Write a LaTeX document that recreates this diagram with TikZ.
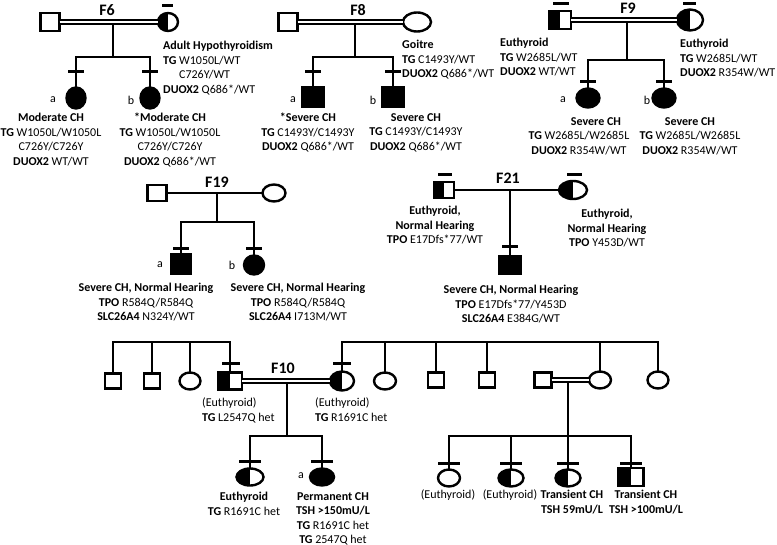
\documentclass[tikz,border=0pt]{standalone}
\usepackage{fontspec}
\setmainfont{Carlito}
\usetikzlibrary{shapes.geometric}
\begin{document}
\begin{tikzpicture}[x=1pt,y=-1pt,
  sym/.style={draw, line width=2.4pt, inner sep=0pt, outer sep=0pt},
  dims/.style 2 args={minimum width=#1, minimum height=#2},
  male/.style={sym, rectangle},
  female/.style={sym, ellipse},
  aff/.style={fill=black},
  carrier/.style={path picture={\fill[black] (path picture bounding box.south west) rectangle (path picture bounding box.north);}},
  ln/.style={line width=2.6pt},
  mate/.style={double, double distance=2.2pt, line width=1.6pt},
  tbar/.style={line width=3pt},
  txt/.style={font=\fontsize{12}{14.5}\selectfont, align=center, inner sep=0pt, anchor=north},
  txtl/.style={txt, align=left, anchor=north west},
  fam/.style={font=\bfseries\fontsize{16}{18}\selectfont, inner sep=0pt},
  lab/.style={font=\fontsize{12}{14}\selectfont, inner sep=0pt}]
\useasboundingbox (0,0) rectangle (777,545);
\fill[white] (0,0) rectangle (777,545);

% ---------------- F6 ----------------
\node[male,dims={19pt}{18pt}] (f6m) at (50,22) {};
\node[female,carrier,dims={20pt}{18pt}] (f6f) at (168,22) {};
\node[fam] (F6) at (107,10) {F6};
\node[female,aff,dims={19pt}{21pt}] (f6a) at (76,98) {};
\node[female,aff,dims={19pt}{21pt}] (f6b) at (150,98) {};
\coordinate (f6u) at (113,22);
\coordinate (f6s) at (113,57);
\draw[ln] (f6u) -- (f6s);
\draw[ln] (f6a.north) -- (f6a.north |- f6s) -- (f6b.north |- f6s) -- (f6b.north);
\draw[mate] (f6m) -- (f6f);
\draw[tbar] (162,6) -- (173,6);
\draw[tbar] (68,72) -- (84,72);
\draw[tbar] (142,72) -- (158,72);
\node[lab] (f6la) at (53,100) {a};
\node[lab] (f6lb) at (131,100) {b};
\node[txtl] (f6ft) at (163,41) {\textbf{Adult Hypothyroidism}\\\textbf{TG} W1050L/WT\\\hphantom{\textbf{TG} }C726Y/WT\\\textbf{DUOX2} Q686*/WT};
\node[txt] (f6at) at (51,113) {\textbf{Moderate CH}\\\textbf{TG} W1050L/W1050L\\C726Y/C726Y\\\textbf{DUOX2} WT/WT};
\node[txt] (f6bt) at (170,113) {\textbf{*Moderate CH}\\\textbf{TG} W1050L/W1050L\\C726Y/C726Y\\\textbf{DUOX2} Q686*/WT};

% ---------------- F8 ----------------
\node[male,dims={19pt}{18pt}] (f8m) at (288,22) {};
\node[female,dims={28pt}{19pt}] (f8f) at (417,22) {};
\node[fam] (F8) at (358,10) {F8};
\node[male,aff,dims={21pt}{20pt}] (f8a) at (313,97) {};
\node[male,aff,dims={21pt}{20pt}] (f8b) at (393,97) {};
\coordinate (f8u) at (355,22);
\coordinate (f8s) at (355,57);
\draw[ln] (f8u) -- (f8s);
\draw[ln] (f8a.north) -- (f8a.north |- f8s) -- (f8b.north |- f8s) -- (f8b.north);
\draw[mate] (f8m) -- (f8f);
\draw[tbar] (305,72) -- (321,72);
\draw[tbar] (385,72) -- (401,72);
\node[lab] (f8la) at (293,100) {a};
\node[lab] (f8lb) at (373,100) {b};
\node[txtl] (f8ft) at (402,40) {\textbf{Goitre}\\\textbf{TG} C1493Y/WT\\\textbf{DUOX2} Q686*/WT};
\node[txt] (f8at) at (308,113) {\textbf{*Severe CH}\\\textbf{TG} C1493Y/C1493Y\\\textbf{DUOX2} Q686*/WT};
\node[txt] (f8bt) at (416,113) {\textbf{Severe CH}\\\textbf{TG} C1493Y/C1493Y\\\textbf{DUOX2} Q686*/WT};

% ---------------- F9 ----------------
\node[male,carrier,dims={22pt}{18pt}] (f9m) at (560,20) {};
\node[female,carrier,dims={26pt}{21pt}] (f9f) at (690,20) {};
\node[fam] (F9) at (628,8) {F9};
\node[female,aff,dims={23pt}{19pt}] (f9a) at (588,98) {};
\node[female,aff,dims={23pt}{19pt}] (f9b) at (664,98) {};
\coordinate (f9u) at (627,20);
\coordinate (f9s) at (627,60);
\draw[ln] (f9u) -- (f9s);
\draw[ln] (f9a.north) -- (f9a.north |- f9s) -- (f9b.north |- f9s) -- (f9b.north);
\draw[mate] (f9m) -- (f9f);
\draw[tbar] (553,4) -- (569,4);
\draw[tbar] (683,4) -- (696,4);
\draw[tbar] (580,82) -- (596,82);
\draw[tbar] (656,82) -- (672,82);
\node[lab] (f9la) at (563,100) {a};
\node[lab] (f9lb) at (647,100) {b};
\node[txtl] (f9mt) at (500,38) {\textbf{Euthyroid}\\\textbf{TG} W2685L/WT\\\textbf{DUOX2} WT/WT};
\node[txtl] (f9ft) at (680,39) {\textbf{Euthyroid}\\\textbf{TG} W2685L/WT\\\textbf{DUOX2} R354W/WT};
\node[txt] (f9at) at (579,117) {\hspace*{34pt}\textbf{Severe CH}\\\textbf{TG} W2685L/W2685L\\\textbf{DUOX2} R354W/WT};
\node[txt] (f9bt) at (690,117) {\textbf{Severe CH}\\\textbf{TG} W2685L/W2685L\\\textbf{DUOX2} R354W/WT};

% ---------------- F19 ----------------
\node[male,dims={19pt}{16pt}] (f19m) at (157,193) {};
\node[female,dims={23pt}{17pt}] (f19f) at (274,193) {};
\node[fam] (F19) at (217,182) {F19};
\node[male,aff,dims={20pt}{20pt}] (f19a) at (181,264) {};
\node[female,aff,dims={20pt}{19pt}] (f19b) at (254,265) {};
\coordinate (f19u) at (217,193);
\coordinate (f19s) at (217,222);
\draw[ln] (f19m) -- (f19f);
\draw[ln] (f19u) -- (f19s);
\draw[ln] (f19a.north) -- (f19a.north |- f19s) -- (f19b.north |- f19s) -- (f19b.north);
\draw[tbar] (173,249) -- (189,249);
\draw[tbar] (246,249) -- (262,249);
\node[lab] (f19la) at (160,265) {a};
\node[lab] (f19lb) at (232,265) {b};
\node[txt] (f19at) at (146,283) {\textbf{Severe CH, Normal Hearing}\\\textbf{TPO} R584Q/R584Q\\\textbf{SLC26A4} N324Y/WT};
\node[txt] (f19bt) at (298,283) {\textbf{Severe CH, Normal Hearing}\\\textbf{TPO} R584Q/R584Q\\\textbf{SLC26A4} I713M/WT};

% ---------------- F21 ----------------
\node[male,carrier,dims={20pt}{16pt}] (f21m) at (444,190) {};
\node[female,carrier,dims={28pt}{18pt}] (f21f) at (573,190) {};
\node[fam] (F21) at (508,178) {F21};
\node[male,aff,dims={22pt}{18pt}] (f21c) at (510,265) {};
\coordinate (f21u) at (510,190);
\draw[ln] (f21m) -- (f21f);
\draw[ln] (f21u) -- (f21c.north);
\draw[tbar] (438,175) -- (452,175);
\draw[tbar] (567,175) -- (582,175);
\draw[tbar] (502,247) -- (518,247);
\node[txt] (f21mt) at (435,206) {\textbf{Euthyroid,}\\\textbf{Normal Hearing}\\\textbf{TPO} E17Dfs*77/WT};
\node[txt] (f21ft) at (607,209) {\textbf{Euthyroid,}\\\textbf{Normal Hearing}\\\textbf{TPO} Y453D/WT};
\node[txt] (f21ct) at (511,285) {\textbf{Severe CH, Normal Hearing}\\\textbf{TPO} E17Dfs*77/Y453D\\\textbf{SLC26A4} E384G/WT};

% ---------------- F10 ----------------
\coordinate (L) at (0,342);
\node[male,dims={16pt}{15pt}] (s1) at (113,381) {};
\node[male,dims={16pt}{15pt}] (s2) at (152,381) {};
\node[female,dims={21pt}{17pt}] (s3) at (190,381) {};
\node[male,carrier,dims={24pt}{17pt}] (f10m) at (230,381) {};
\node[female,carrier,dims={24pt}{19pt}] (f10f) at (342,381) {};
\node[female,dims={22pt}{17pt}] (s4) at (385,381) {};
\node[male,dims={16pt}{15pt}] (s5) at (436,380) {};
\node[male,dims={16pt}{15pt}] (s6) at (487,380) {};
\node[male,dims={17pt}{15pt}] (sm) at (543,380) {};
\node[female,dims={22pt}{17pt}] (sf) at (600,380) {};
\node[female,dims={21pt}{17pt}] (s7) at (658,380) {};
\node[fam] (F10) at (283,368) {F10};

\draw[ln] (s1.north) -- (s1.north |- L) -- (f10m.north |- L) -- (f10m.north);
\draw[ln] (s2.north) -- (s2.north |- L);
\draw[ln] (s3.north) -- (s3.north |- L);
\draw[ln] (f10f.north) -- (f10f.north |- L) -- (s7.north |- L) -- (s7.north);
\draw[ln] (s4.north) -- (s4.north |- L);
\draw[ln] (s5.north) -- (s5.north |- L);
\draw[ln] (s6.north) -- (s6.north |- L);
\draw[ln] (sf.north) -- (sf.north |- L);
\draw[tbar] (222,364) -- (240,364);
\draw[tbar] (333,364) -- (351,364);

\node[female,carrier,dims={27pt}{17pt}] (c1) at (250,477) {};
\node[female,aff,dims={24pt}{17pt}] (c2) at (322,477) {};
\coordinate (f10u) at (287,381);
\coordinate (f10s) at (287,436);
\draw[ln] (f10u) -- (f10s);
\draw[ln] (c1.north) -- (c1.north |- f10s) -- (c2.north |- f10s) -- (c2.north);
\draw[mate] (f10m) -- (f10f);
\draw[tbar] (239,461) -- (261,461);
\draw[tbar] (311,461) -- (333,461);
\node[lab] (c2l) at (301,476) {a};

\node[female,dims={22pt}{17pt}] (g1) at (449,478) {};
\node[female,carrier,dims={25pt}{17pt}] (g2) at (511,478) {};
\node[female,carrier,dims={25pt}{17pt}] (g3) at (568,478) {};
\node[male,carrier,dims={25pt}{18pt}] (g4) at (631,477) {};
\coordinate (gu) at (568,380);
\coordinate (gs) at (568,436);
\draw[ln] (gu) -- (g3.north);
\draw[ln] (g1.north) -- (g1.north |- gs) -- (g4.north |- gs) -- (g4.north);
\draw[ln] (g2.north) -- (g2.north |- gs);
\draw[mate] (sm) -- (sf);
\draw[tbar] (438,463) -- (460,463);
\draw[tbar] (500,463) -- (522,463);
\draw[tbar] (557,463) -- (579,463);
\draw[tbar] (620,463) -- (642,463);

\node[txtl] (f10mt) at (202,398) {(Euthyroid)\\\textbf{TG} L2547Q het};
\node[txtl] (f10ft) at (315,398) {(Euthyroid)\\\textbf{TG} R1691C het};
\node[txt] (c1t) at (244,492) {\textbf{Euthyroid}\\\textbf{TG} R1691C het};
\node[txt] (c2t) at (333,492) {\textbf{Permanent CH}\\\textbf{TSH >150mU/L}\\\textbf{TG} R1691C het\\\textbf{TG} 2547Q het};
\node[txt] (g1t) at (448,490) {(Euthyroid)};
\node[txt] (g2t) at (510,490) {(Euthyroid)};
\node[txt] (g3t) at (572,490) {\textbf{Transient CH}\\\textbf{TSH 59mU/L}};
\node[txt] (g4t) at (646,490) {\textbf{Transient CH}\\\textbf{TSH >100mU/L}};
\end{tikzpicture}
\end{document}
